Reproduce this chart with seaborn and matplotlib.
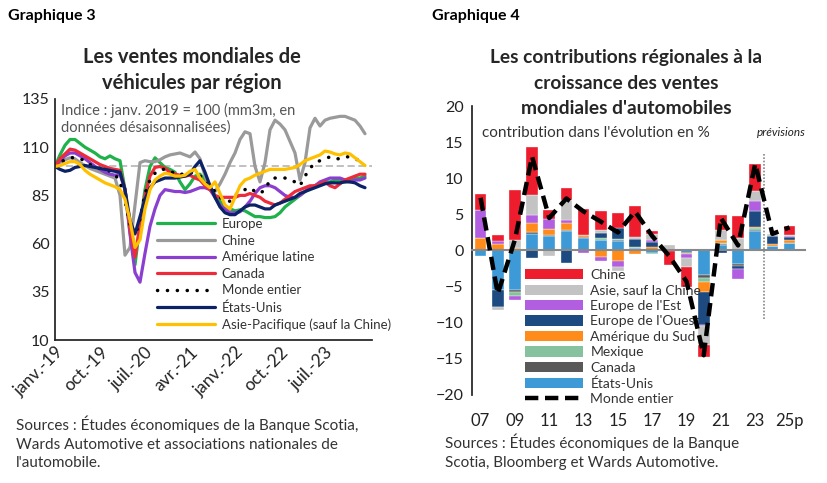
import numpy as np
import pandas as pd
import matplotlib
matplotlib.use('Agg')
import matplotlib.pyplot as plt
from matplotlib.patches import Patch
from matplotlib.lines import Line2D
import seaborn as sns

# ---- Graphique 3 : index janv. 2019 = 100, mm3m (janv. 2019 -> mars 2024)
europe = [100, 106, 111, 114, 114, 112, 110, 108.5, 107, 105, 104, 105.5, 104, 103,
          88, 66, 49, 70, 88, 100, 104.5, 102, 99.5, 98.5, 97, 92, 88, 91, 95, 96,
          93, 89, 85, 82, 79.5, 78, 77, 77.5, 77, 75.5, 74, 74, 73.5, 73.5, 74, 76,
          79, 81, 83, 85, 87, 89, 90, 91, 92, 92, 93, 93, 92, 93, 94, 94, 95]
chine = [100, 102, 103.5, 104.5, 104, 102, 100.5, 99, 98, 97, 96, 95, 94, 85, 54, 58,
         80, 102, 103, 102.5, 102.5, 103.5, 105, 106, 106.5, 107, 106, 105, 107.5, 104,
         95, 88, 87, 91, 96, 102, 107, 114, 118, 117, 100, 92, 102, 119, 124, 122, 119,
         113, 107, 93, 102, 120, 125, 121, 124, 125, 125.5, 126, 126, 125, 124, 121, 117]
amerique_latine = [100, 103, 105.5, 107, 107, 105.5, 104, 102, 100, 98.5, 97, 96, 95.5,
                   96, 88, 65, 45, 40, 55, 69, 78, 85, 88, 87.5, 87, 87, 86.5, 87, 88,
                   89, 89, 88, 84, 80, 78, 76, 76, 76.5, 79, 82, 86, 89, 90, 90, 89, 87,
                   85, 84, 84, 85, 87, 89, 90, 92, 93, 94, 94, 94, 93, 92, 93, 93, 94]
canada = [100, 104, 106.5, 109, 108.5, 107, 105.5, 104, 102.5, 101, 100, 99, 98.5, 98,
          88, 68, 53, 70, 85, 95, 99.5, 100, 99, 97, 96, 95.5, 95, 95.5, 94, 93, 90, 88,
          85, 84, 84, 84, 84, 85, 85, 86, 85, 84, 82, 81, 80, 81, 83, 85, 87, 88, 89,
          90, 90, 91, 92, 90, 89, 91, 93, 94, 95, 96, 96]
monde = [100, 102, 103.5, 104.5, 104.7, 104, 103, 101, 100, 99, 98.5, 97.5, 96, 92, 82,
         70, 64, 72, 86, 93, 96.5, 98.5, 98.5, 98, 96, 96, 96, 97, 96, 95, 93, 90, 87,
         84, 82, 82, 85, 87, 88, 89, 87, 86, 88, 93, 94, 94, 94, 93, 92, 90, 95, 99,
         102, 103, 104, 105, 104, 104, 105, 105, 104, 103, 101]
etats_unis = [100, 98.5, 97.5, 98, 99.5, 100, 100.5, 100, 99.5, 99, 98.5, 98, 97.5, 97,
              88, 72, 65, 74, 83, 89, 92, 93, 94, 94, 94, 94.5, 95, 96, 100, 103, 97,
              90, 84, 79, 76, 75, 75, 77, 79, 80, 80, 79, 78, 78, 80, 81, 82, 83, 84,
              86, 87, 88, 89, 90, 91, 91.5, 91.5, 91.5, 92, 92, 91.5, 90, 89]
asie_pacifique = [100, 100.5, 101.5, 102.5, 102.5, 101, 98, 96, 94.5, 93, 91.5, 90.5,
                  89.5, 88, 83, 72, 58, 62, 78, 88, 93, 95, 96.5, 96, 95, 95, 95.5,
                  97.5, 98.5, 94, 91, 89, 92, 86, 80, 78, 84, 90, 93, 94, 95.5, 96.5,
                  97.5, 98.5, 98.5, 98.5, 98.5, 99, 99.5, 101, 103, 104, 105, 106, 108,
                  107.5, 106.5, 106, 107, 106.5, 104.5, 102.5, 100.5]
mois = np.arange(len(europe))
tick_mois = [0, 9, 18, 27, 36, 45, 54, 63]
tick_labels_g3 = ['janv.-19', 'oct.-19', 'juil.-20', 'avr.-21', 'janv.-22', 'oct.-22',
                  'juil.-23', '']

# ---- Graphique 4 : contributions (points de %), 2007 -> 2025p
annees = ['07', '08', '09', '10', '11', '12', '13', '14', '15', '16', '17', '18', '19',
          '20', '21', '22', '23', '24', '25p']
c_etats_unis = [-0.8, -5.4, -5.4, 2.3, 2.0, 2.7, 1.7, 1.4, 1.3, 0.3, -0.4, 0.1, -0.4,
                -3.45, 0.8, -1.9, 2.7, 0.6, 1.1]
c_canada = [0, -0.1, -0.3, 0.2, 0.1, 0.2, 0.1, 0.1, 0.1, 0, 0, 0, 0, -0.35, 0.1, -0.2,
            0.2, 0, 0]
c_mexique = [0, 0, -0.6, 0, 0.1, 0, 0.1, 0.2, 0.15, 0.2, -0.1, 0, 0, -0.6, 0.1, 0, 0.2,
             0, 0]
c_amerique_sud = [1.7, 0.9, 0.3, 1.3, 0.8, 0.9, 0.2, -0.9, -1.4, -0.5, 0.55, 0, -0.1,
                  -1.4, 0.5, 0, 0.2, 0.3, 0.3]
c_europe_ouest = [0, -2.3, 0, -1.1, 0, -1.7, 0, 0.7, 1.55, 1.1, 0.6, -0.1, 0, -4.5,
                  -0.4, -0.5, 2.1, 1.1, 0.5]
c_europe_est = [3.9, 0.4, -0.6, 1.1, 1.3, 0.4, -0.3, -0.5, -0.9, 0, 0.35, 0, -0.5,
                -0.2, 0, -1.4, 1.4, 0, 0.1]
c_asie = [0, -0.5, 1.1, 2.8, -0.8, 2.8, 0, 0.5, -0.5, 0.3, 0.8, 0.7, -1.3, -2.6, 1.3,
          1.7, 1.5, 0.3, 0.2]
c_chine = [2.2, 0.8, 7.0, 6.6, 1.3, 1.7, 3.6, 2.6, 2.1, 4.2, 0.4, -1.9, -2.8, -1.6, 2.1,
           3.1, 3.7, 0, 1.2]
c_monde = [7.3, -6.0, 1.5, 13.0, 4.5, 7.2, 5.4, 4.0, 2.5, 5.4, 2.0, -0.8, -4.3, -14.5,
           4.5, 0.7, 12.0, 2.3, 3.2]

sns.set_theme(style='white')
plt.rcParams['font.family'] = ['Lato', 'DejaVu Sans']
plt.rcParams['axes.edgecolor'] = '#222222'

fig = plt.figure(figsize=(8.28, 4.83), dpi=100)
W, H = 828, 483

def box(x0, y0, x1, y1):
    return [x0 / W, 1 - y1 / H, (x1 - x0) / W, (y1 - y0) / H]

# ================= Graphique 3 =================
ax1 = fig.add_axes(box(55, 99, 372, 340))
series = [
    ('Europe', europe, '#1fb24a', '-'),
    ('Chine', chine, '#9a9a9a', '-'),
    ('Amérique latine', amerique_latine, '#8b3fd0', '-'),
    ('Canada', canada, '#ee2b3b', '-'),
    ('Monde entier', monde, 'black', ':'),
    ('États-Unis', etats_unis, '#0b2266', '-'),
    ('Asie-Pacifique (sauf la Chine)', asie_pacifique, '#ffc000', '-'),
]
ax1.axhline(100, color='#bbbbbb', lw=1.3, ls=(0, (4, 2)), zorder=0)
for name, vals, col, ls in series:
    if ls == ':':
        sns.lineplot(x=mois, y=vals, ax=ax1, color=col, lw=2.5, label=name,
                     linestyle=(0, (0.05, 2.8)), dash_capstyle='round')
    else:
        sns.lineplot(x=mois, y=vals, ax=ax1, color=col, lw=2.3, label=name)

ax1.set_xlim(0, 63.4)
ax1.set_ylim(10, 135)
ax1.set_yticks([10, 35, 60, 85, 110, 135])
ax1.set_xticks(tick_mois)
ax1.set_xticklabels(tick_labels_g3, rotation=45, ha='right', rotation_mode='anchor')
ax1.tick_params(axis='both', direction='in', length=5, width=1, labelsize=11.5,
                colors='#222222', pad=4)
ax1.tick_params(axis='x', pad=3, labelsize=12.5)
for s in ['top', 'right']:
    ax1.spines[s].set_visible(False)
ax1.set_xlabel('')
ax1.set_ylabel('')
ax1.text(0.02, 0.985, 'Indice : janv. 2019 = 100 (mm3m, en\ndonnées désaisonnalisées)',
         transform=ax1.transAxes, ha='left', va='top', fontsize=10.5, color='#555555',
         linespacing=1.25)
leg1 = ax1.legend(loc='upper left', bbox_to_anchor=(157 / W, 1 - 218 / H),
                  bbox_transform=fig.transFigure, frameon=False, fontsize=9.5,
                  handlelength=4.4, handletextpad=0.5, labelspacing=0.35,
                  borderpad=0, borderaxespad=0)
for t in leg1.get_texts():
    t.set_color('#333333')

fig.text(8 / W, 1 - 16 / H, 'Graphique 3', fontsize=11.5, fontweight='bold',
         ha='left', va='center', color='black')
fig.text(192 / W, 1 - 70 / H, 'Les ventes mondiales de\nvéhicules par région',
         fontsize=14.5, fontweight='bold', ha='center', va='center', linespacing=1.35)
fig.text(16 / W, 1 - 443 / H,
         "Sources : Études économiques de la Banque Scotia,\n"
         "Wards Automotive et associations nationales de\nl'automobile.",
         fontsize=11, ha='left', va='center', color='#333333', linespacing=1.42)

# ================= Graphique 4 =================
ax2 = fig.add_axes(box(472, 106, 805, 395))
x = np.arange(len(annees))
regions = [
    ('États-Unis', c_etats_unis, '#3d9ad6'),
    ('Canada', c_canada, '#595959'),
    ('Mexique', c_mexique, '#86c29d'),
    ('Amérique du Sud', c_amerique_sud, '#ff8c1a'),
    ("Europe de l'Ouest", c_europe_ouest, '#1d4a80'),
    ("Europe de l'Est", c_europe_est, '#b25ee0'),
    ('Asie, sauf la Chine', c_asie, '#c3c3c3'),
    ('Chine', c_chine, '#ee1d2e'),
]
pos_base = np.zeros(len(annees))
neg_base = np.zeros(len(annees))
handles = {}
for name, vals, col in regions:
    v = np.array(vals, dtype=float)
    bottom = np.where(v >= 0, pos_base, neg_base)
    ax2.bar(x, v, bottom=bottom, width=0.68, color=col, edgecolor='white',
            linewidth=0.25, zorder=2)
    pos_base = pos_base + np.where(v > 0, v, 0)
    neg_base = neg_base + np.where(v < 0, v, 0)
    handles[name] = Patch(facecolor=col, edgecolor='none')

sns.lineplot(x=x, y=c_monde, ax=ax2, color='black', lw=3.2,
             linestyle=(0, (3.0, 1.5)), zorder=6)
ax2.axvline(16.5, ymin=(-9.5 + 20) / 40, ymax=(13.5 + 20) / 40, color='#888888',
            lw=1.2, ls=(0, (1, 1)), zorder=3)

ax2.set_xlim(-0.46, 18.9)
ax2.set_ylim(-20, 20)
ax2.set_yticks([-20, -15, -10, -5, 0, 5, 10, 15, 20])
ax2.spines['bottom'].set_position(('data', 0))
ax2.spines['bottom'].set_color('#888888')
ax2.spines['bottom'].set_linewidth(1.5)
for s in ['top', 'right']:
    ax2.spines[s].set_visible(False)
ax2.set_xticks(np.arange(-0.5, 19, 1))
ax2.set_xticklabels([])
ax2.tick_params(axis='x', direction='out', length=4, color='#888888', width=1.2)
ax2.tick_params(axis='y', direction='in', length=5, width=1, labelsize=11.5,
                colors='#222222', pad=6)
sec = ax2.secondary_xaxis(0)
sec.set_xticks(x[::2], annees[::2])
sec.tick_params(length=0, labelsize=12, colors='#222222', pad=13)
sec.spines['bottom'].set_visible(False)

ax2.text(0.03, 0.907, "contribution dans l'évolution en %", transform=ax2.transAxes,
         ha='left', va='center', fontsize=11, color='#333333')
ax2.text(0.855, 0.907, 'prévisions', transform=ax2.transAxes, ha='left', va='center',
         fontsize=8.5, style='italic', color='#222222')

leg_order = ['Chine', 'Asie, sauf la Chine', "Europe de l'Est", "Europe de l'Ouest",
             'Amérique du Sud', 'Mexique', 'Canada', 'États-Unis']
leg_handles = [handles[n] for n in leg_order]
leg_handles.append(Line2D([0], [0], color='black', lw=3.2, linestyle=(0, (3.0, 1.5))))
leg2 = ax2.legend(leg_handles, leg_order + ['Monde entier'], loc='upper left',
                  bbox_to_anchor=(525 / W, 1 - 269 / H), bbox_transform=fig.transFigure,
                  frameon=False, fontsize=10, handlelength=4.2, handleheight=0.75,
                  handletextpad=0.5, labelspacing=0.25, borderpad=0, borderaxespad=0)
leg2.set_zorder(4)
for t in leg2.get_texts():
    t.set_color('#333333')

fig.text(432 / W, 1 - 16 / H, 'Graphique 4', fontsize=11.5, fontweight='bold',
         ha='left', va='center', color='black')
fig.text(626 / W, 1 - 83 / H,
         "Les contributions régionales à la\ncroissance des ventes\nmondiales d'automobiles",
         fontsize=13.8, fontweight='bold', ha='center', va='center', linespacing=1.58)
fig.text(445 / W, 1 - 452 / H,
         "Sources : Études économiques de la Banque\nScotia, Bloomberg et Wards Automotive.",
         fontsize=11, ha='left', va='center', color='#333333', linespacing=1.42)

fig.savefig('out.png', dpi=100)
